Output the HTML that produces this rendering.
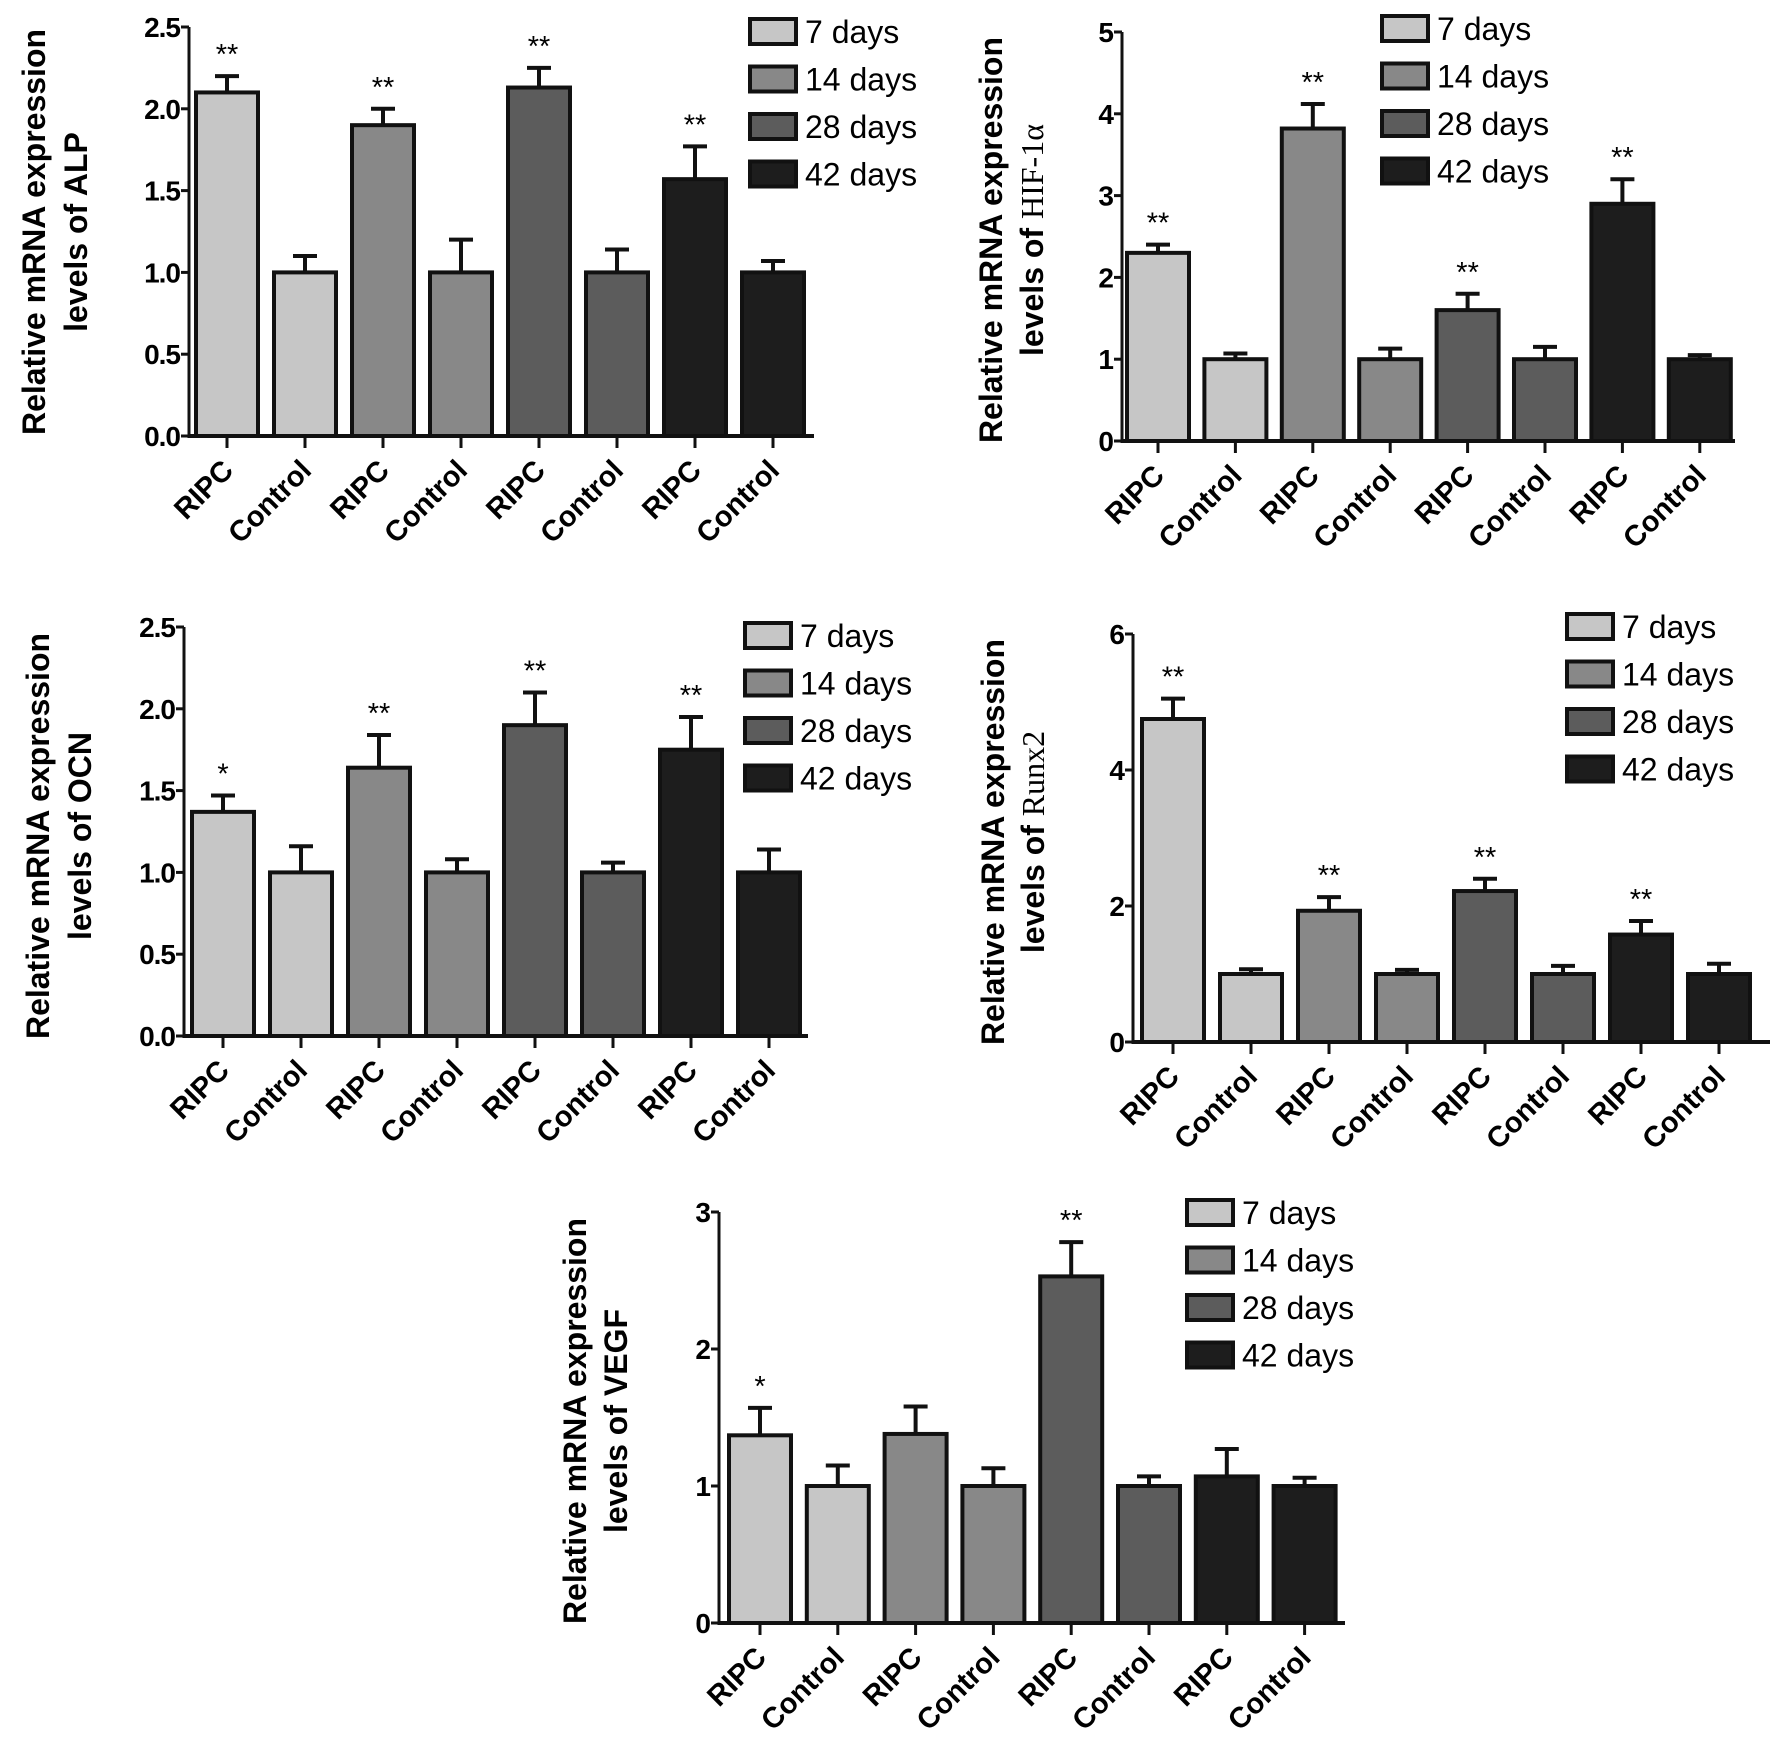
<!DOCTYPE html>
<html><head><meta charset="utf-8">
<style>
html,body{margin:0;padding:0;background:#fff;}
svg{display:block;}
text{font-family:"Liberation Sans",Arial,sans-serif;}
</style></head>
<body>
<svg id="fig" width="1772" height="1750" viewBox="0 0 1772 1750" xmlns="http://www.w3.org/2000/svg"></svg>
<script>
const categories = ["RIPC","Control","RIPC","Control","RIPC","Control","RIPC","Control"];
const legendLabels = ["7 days","14 days","28 days","42 days"];
const alpValues = [2.1,1.0,1.9,1.0,2.13,1.0,1.57,1.0];
const alpErrors = [0.1,0.1,0.1,0.2,0.12,0.14,0.2,0.07];
const alpStars = ["**","","**","","**","","**",""];
const alpTicks = ["0.0","0.5","1.0","1.5","2.0","2.5"];
const hifValues = [2.3,1.0,3.82,1.0,1.6,1.0,2.9,1.0];
const hifErrors = [0.1,0.07,0.3,0.13,0.2,0.15,0.3,0.05];
const hifStars = ["**","","**","","**","","**",""];
const hifTicks = ["0","1","2","3","4","5"];
const ocnValues = [1.37,1.0,1.64,1.0,1.9,1.0,1.75,1.0];
const ocnErrors = [0.1,0.16,0.2,0.08,0.2,0.06,0.2,0.14];
const ocnStars = ["*","","**","","**","","**",""];
const ocnTicks = ["0.0","0.5","1.0","1.5","2.0","2.5"];
const runxValues = [4.75,1.0,1.93,1.0,2.22,1.0,1.58,1.0];
const runxErrors = [0.3,0.07,0.2,0.06,0.18,0.12,0.2,0.15];
const runxStars = ["**","","**","","**","","**",""];
const runxTicks = ["0","2","4","6"];
const vegfValues = [1.37,1.0,1.38,1.0,2.53,1.0,1.07,1.0];
const vegfErrors = [0.2,0.15,0.2,0.13,0.25,0.07,0.2,0.06];
const vegfStars = ["*","","","","**","","",""];
const vegfTicks = ["0","1","2","3"];

const colors = ["#c6c6c6","#888888","#5c5c5c","#1d1d1d"];
const NS = "http://www.w3.org/2000/svg";
const svg = document.getElementById("fig");
function mk(tag, attrs, parent, txt){
  const e = document.createElementNS(NS, tag);
  for (const k in attrs) e.setAttribute(k, attrs[k]);
  if (txt !== undefined) e.textContent = txt;
  (parent||svg).appendChild(e);
  return e;
}
function chart(name, cfg, values, errors, stars, ticks){
  const g = mk("g", {});
  
  
  const maxV = parseFloat(ticks[ticks.length-1]);
  const y = v => cfg.y0 - (v / maxV) * (cfg.y0 - cfg.yTop);
  const x = i => cfg.x1 + i * cfg.step;
  const bw = 62;
  values.forEach((v,i)=>{
    const top = y(v), eTop = y(v + errors[i]);
    const ln = mk("line",{x1:x(i),x2:x(i),y1:top,y2:eTop,stroke:"#111","stroke-width":4},g);
    
    
    const cap = mk("line",{x1:x(i)-12,x2:x(i)+12,y1:eTop,y2:eTop,stroke:"#111","stroke-width":4},g);
    
    
    const r = mk("rect",{x:x(i)-bw/2,y:top,width:bw,height:cfg.y0-top,fill:colors[Math.floor(i/2)],stroke:"#111","stroke-width":4},g);
    
    
    if (stars[i]) {
      const s = mk("text",{x:x(i),y:eTop-12,"text-anchor":"middle","font-size":29},g,stars[i]);
      
      
    }
    const tk = mk("line",{x1:x(i),x2:x(i),y1:cfg.y0,y2:cfg.y0+12,stroke:"#111","stroke-width":3},g);
    
    
    const tx = x(i)+8, ty = cfg.y0+36;
    const lbl = mk("text",{x:tx,y:ty,"text-anchor":"end","font-size":29,"font-weight":"bold",transform:`rotate(-45 ${tx} ${ty})`},g,categories[i]);
    
    
  });
  const ya = mk("line",{x1:cfg.ax,x2:cfg.ax,y1:cfg.yTop,y2:cfg.y0+2,stroke:"#111","stroke-width":3},g);
  
  
  const xa = mk("line",{x1:cfg.ax,x2:cfg.xEnd,y1:cfg.y0,y2:cfg.y0,stroke:"#111","stroke-width":4},g);
  
  
  ticks.forEach(t=>{
    const v = parseFloat(t);
    const tl = mk("line",{x1:cfg.ax-8,x2:cfg.ax,y1:y(v),y2:y(v),stroke:"#111","stroke-width":3},g);
    
    
    const tt = mk("text",{x:cfg.ax-9,y:y(v)+10,"text-anchor":"end","font-size":28,"font-weight":"bold","letter-spacing":"-1"},g,t);
    
    
  });
  const t1 = mk("text",{x:cfg.t1x,y:cfg.tcy,"text-anchor":"middle","font-size":32,"font-weight":"bold",transform:`rotate(-90 ${cfg.t1x} ${cfg.tcy})`},g,"Relative mRNA expression");
  
  
  const t2 = mk("text",{x:cfg.t2x,y:cfg.tcy,"text-anchor":"middle","font-size":32,"font-weight":"bold",transform:`rotate(-90 ${cfg.t2x} ${cfg.tcy})`},g);
  
  
  mk("tspan",{},t2,"levels of ");
  mk("tspan",cfg.serif?{"font-family":"Liberation Serif, serif","font-weight":"normal","font-size":32}:{},t2,cfg.gene);
  legendLabels.forEach((l,i)=>{
    const ly = cfg.ly + i*47.5;
    const b = mk("rect",{x:cfg.lx,y:ly,width:46,height:25,fill:colors[i],stroke:"#111","stroke-width":4},g);
    
    
    const lt = mk("text",{x:cfg.lx+55,y:ly+24,"font-size":32},g,l);
    
    
  });
}
chart("alp",{ax:189,y0:436,yTop:27,xEnd:814,x1:227,step:78,t1x:45,t2x:87,tcy:232,lx:750,ly:19,gene:"ALP"},alpValues,alpErrors,alpStars,alpTicks);
chart("hif",{ax:1122,y0:441,yTop:32,xEnd:1735,x1:1158,step:77.4,t1x:1002,t2x:1043,tcy:240,lx:1382,ly:16,gene:"HIF-1α",serif:true},hifValues,hifErrors,hifStars,hifTicks);
chart("ocn",{ax:184,y0:1036,yTop:627,xEnd:808,x1:223,step:78,t1x:49,t2x:91,tcy:836,lx:745,ly:623,gene:"OCN"},ocnValues,ocnErrors,ocnStars,ocnTicks);
chart("runx2",{ax:1133,y0:1042,yTop:634,xEnd:1770,x1:1173,step:78,t1x:1004,t2x:1044,tcy:842,lx:1567,ly:614,gene:"Runx2",serif:true},runxValues,runxErrors,runxStars,runxTicks);
chart("vegf",{ax:719,y0:1623,yTop:1212,xEnd:1345,x1:760,step:77.8,t1x:586,t2x:627,tcy:1421,lx:1187,ly:1200,gene:"VEGF"},vegfValues,vegfErrors,vegfStars,vegfTicks);
</script>
</body></html>
